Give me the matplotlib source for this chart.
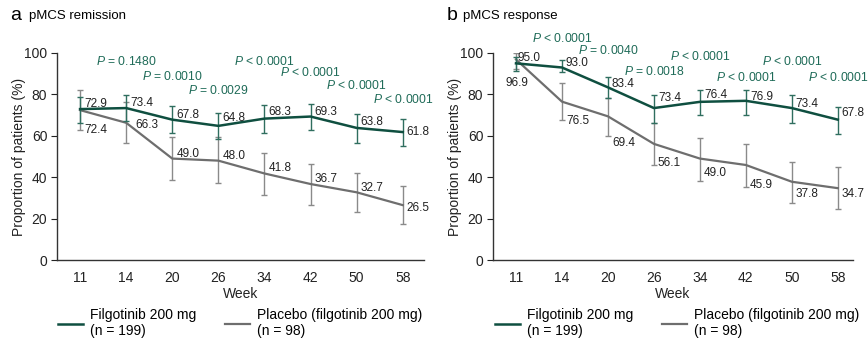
import matplotlib.pyplot as plt
from matplotlib.lines import Line2D

plt.rcParams["font.family"] = ["Liberation Sans", "DejaVu Sans"]
plt.rcParams["mathtext.fontset"] = "custom"
plt.rcParams["mathtext.it"] = "Liberation Sans:italic"
plt.rcParams["mathtext.rm"] = "Liberation Sans"

weeks = ["11", "14", "20", "26", "34", "42", "50", "58"]

# a: pMCS remission
rem_filgo = [72.9, 73.4, 67.8, 64.8, 68.3, 69.3, 63.8, 61.8]
rem_filgo_lo = [66.3, 67.3, 61.3, 58.4, 61.2, 62.8, 56.7, 55.1]
rem_filgo_hi = [78.9, 79.7, 74.3, 71.2, 74.7, 75.4, 70.4, 68.3]
rem_pbo = [72.4, 66.3, 49.0, 48.0, 41.8, 36.7, 32.7, 26.5]
rem_pbo_lo = [62.8, 56.4, 38.6, 37.0, 31.4, 26.4, 23.0, 17.2]
rem_pbo_hi = [82.1, 76.2, 59.6, 59.6, 51.8, 46.4, 41.9, 35.7]
rem_p = ["P = 0.1480", "P = 0.0010", "P = 0.0029", "P < 0.0001",
         "P < 0.0001", "P < 0.0001", "P < 0.0001"]

# b: pMCS response
resp_filgo = [95.0, 93.0, 83.4, 73.4, 76.4, 76.9, 73.4, 67.8]
resp_filgo_lo = [91.5, 91.0, 78.1, 66.3, 70.0, 70.0, 66.4, 60.7]
resp_filgo_hi = [98.0, 96.7, 88.3, 79.7, 82.1, 82.1, 79.7, 74.1]
resp_pbo = [96.9, 76.5, 69.4, 56.1, 49.0, 45.9, 37.8, 34.7]
resp_pbo_lo = [92.5, 67.6, 59.9, 45.9, 38.0, 35.3, 27.7, 24.8]
resp_pbo_hi = [100.0, 85.4, 78.3, 66.3, 59.1, 56.0, 47.5, 44.8]
resp_p = ["P < 0.0001", "P = 0.0040", "P = 0.0018", "P < 0.0001",
          "P < 0.0001", "P < 0.0001", "P < 0.0001"]

GREEN = "#0f4f40"
PTXT = "#1f6b58"
GREY = "#6e6e6e"
EGREY = "#8a8a8a"

# label offsets in pixels (dx, dy), layout only
rem_filgo_off = [(4, 5), (4, 5), (4, 5), (4, 8), (4, 7), (4, 5), (4, 6), (4, 0)]
rem_pbo_off = [(4, -20), (9, -2), (4, 5), (4, 5), (4, 5), (4, 5), (4, 4), (4, -3)]
rem_p_y = [95.8, 88.5, 82.1, 96.1, 90.7, 84.1, 77.6]
resp_filgo_off = [(2, 5), (4, 4), (4, 3), (4, 10), (4, 7), (4, 4), (4, 4), (4, 7)]
resp_pbo_off = [(-10, -24), (4, -19), (4, -27), (4, -19), (4, -14), (4, -20), (4, -12), (4, -6)]
resp_p_y = [107.1, 101.1, 91.0, 98.2, 88.3, 96.1, 88.3]

fig = plt.figure(figsize=(8.68, 3.42), dpi=100)
ax_a = fig.add_axes([57 / 868, 82 / 342, 367 / 868, 207 / 342])
ax_b = fig.add_axes([493 / 868, 82 / 342, 360 / 868, 207 / 342])


def draw_panel(ax, filgo, flo, fhi, pbo, plo, phi, pvals, foff, poff, py, xmax):
    x = list(range(len(weeks)))
    perr = [[p - l for p, l in zip(pbo, plo)], [h - p for p, h in zip(pbo, phi)]]
    ferr = [[f - l for f, l in zip(filgo, flo)], [h - f for f, h in zip(filgo, fhi)]]
    ax.errorbar(x, pbo, yerr=perr, color=GREY, ecolor=EGREY, lw=1.6,
                elinewidth=1.0, capsize=2.5, capthick=1.0, zorder=2)
    ax.errorbar(x, filgo, yerr=ferr, color=GREEN, ecolor="#2f6e5f", lw=1.8,
                elinewidth=1.0, capsize=2.5, capthick=1.0, zorder=3)
    for vals, offs in [(filgo, foff), (pbo, poff)]:
        for xi, v, (dx, dy) in zip(x, vals, offs):
            ax.annotate(f"{v:.1f}", (xi, v), xytext=(dx * 0.72, dy * 0.72),
                        textcoords="offset points", ha="left", va="center",
                        fontsize=8.5, color="#222222", zorder=4)
    for xi, txt, yy in zip(x[1:], pvals, py):
        ax.text(xi, yy, r"$\it{P}$" + txt[1:], ha="center", va="center",
                fontsize=8.7, color=PTXT, clip_on=False)
    ax.set_xlim(-0.5, xmax)
    ax.set_ylim(0, 100)
    ax.set_xticks(x)
    ax.set_xticklabels(weeks)
    ax.set_yticks([0, 20, 40, 60, 80, 100])
    ax.tick_params(axis="x", length=0, labelsize=10, pad=8, colors="#222222")
    ax.tick_params(axis="y", length=4, labelsize=10, pad=3, colors="#222222")
    for s in ["top", "right"]:
        ax.spines[s].set_visible(False)
    for s in ["left", "bottom"]:
        ax.spines[s].set_color("#333333")
        ax.spines[s].set_linewidth(1.0)
    ax.set_xlabel("Week", fontsize=10, labelpad=1, color="#222222")
    ax.set_ylabel("Proportion of patients (%)", fontsize=10, labelpad=-1,
                  color="#222222")


draw_panel(ax_a, rem_filgo, rem_filgo_lo, rem_filgo_hi, rem_pbo, rem_pbo_lo,
           rem_pbo_hi, rem_p, rem_filgo_off, rem_pbo_off, rem_p_y, 7.46)
draw_panel(ax_b, resp_filgo, resp_filgo_lo, resp_filgo_hi, resp_pbo, resp_pbo_lo,
           resp_pbo_hi, resp_p, resp_filgo_off, resp_pbo_off, resp_p_y, 7.33)

fig.text(10 / 868, 1 - 16 / 342, "a", fontsize=14, va="center", ha="left")
fig.text(29 / 868, 1 - 16 / 342, "pMCS remission", fontsize=9.5, va="center", ha="left")
fig.text(447 / 868, 1 - 16 / 342, "b", fontsize=14, va="center", ha="left")
fig.text(463 / 868, 1 - 16 / 342, "pMCS response", fontsize=9.5, va="center", ha="left")

handles = [Line2D([], [], color=GREEN, lw=1.8), Line2D([], [], color=GREY, lw=1.6)]
labels = ["Filgotinib 200 mg\n(n = 199)", "Placebo (filgotinib 200 mg)\n(n = 98)"]
for x0 in [58 / 868, 495 / 868]:
    fig.legend(handles, labels, loc="upper left", bbox_to_anchor=(x0, 1 - 308 / 342),
               ncol=2, frameon=False, fontsize=10, handlelength=1.8,
               handletextpad=0.5, columnspacing=2.1, borderaxespad=0,
               borderpad=0, labelspacing=0)

fig.savefig("out.png", dpi=100)
